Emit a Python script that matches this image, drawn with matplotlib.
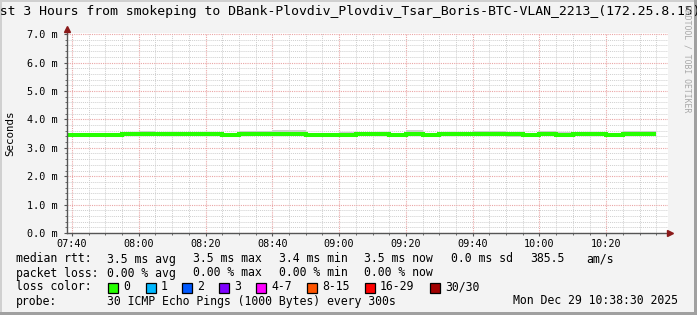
import matplotlib
matplotlib.use('Agg')
import matplotlib.pyplot as plt
from matplotlib.patches import Rectangle
from matplotlib.ticker import MultipleLocator, FixedLocator

W, H = 697, 315
MONO = 'DejaVu Sans Mono'

# 5 minute bins (start time of each bin)
bin_start = ["07:35", "07:40", "07:45", "07:50", "07:55", "08:00", "08:05", "08:10", "08:15",
             "08:20", "08:25", "08:30", "08:35", "08:40", "08:45", "08:50", "08:55", "09:00",
             "09:05", "09:10", "09:15", "09:20", "09:25", "09:30", "09:35", "09:40", "09:45",
             "09:50", "09:55", "10:00", "10:05", "10:10", "10:15", "10:20", "10:25", "10:30"]
median_ms = [3.45, 3.45, 3.45, 3.45, 3.48, 3.47, 3.48, 3.47, 3.48,
             3.47, 3.46, 3.48, 3.48, 3.47, 3.47, 3.46, 3.46, 3.46,
             3.47, 3.47, 3.46, 3.47, 3.46, 3.47, 3.47, 3.48, 3.48,
             3.47, 3.46, 3.47, 3.46, 3.48, 3.47, 3.46, 3.47, 3.47]
smoke_lo_ms = [3.44, 3.44, 3.44, 3.44, 3.46, 3.45, 3.46, 3.45, 3.46,
               3.45, 3.37, 3.46, 3.46, 3.42, 3.42, 3.44, 3.44, 3.44,
               3.45, 3.44, 3.44, 3.44, 3.44, 3.44, 3.45, 3.45, 3.45,
               3.37, 3.44, 3.44, 3.44, 3.45, 3.40, 3.44, 3.45, 3.45]
smoke_hi_ms = [3.47, 3.47, 3.47, 3.47, 3.52, 3.58, 3.52, 3.56, 3.52,
               3.54, 3.52, 3.60, 3.60, 3.63, 3.61, 3.50, 3.50, 3.57,
               3.57, 3.56, 3.53, 3.61, 3.52, 3.51, 3.52, 3.60, 3.58,
               3.52, 3.50, 3.58, 3.56, 3.52, 3.56, 3.51, 3.59, 3.59]

xtick_labels = ["07:40", "08:00", "08:20", "08:40", "09:00", "09:20", "09:40", "10:00", "10:20"]
ytick_values = [0, 1, 2, 3, 4, 5, 6, 7]

loss_labels = ["0", "1", "2", "3", "4-7", "8-15", "16-29", "30/30"]
loss_colors = ["#26ff00", "#00b8ff", "#0059ff", "#7e00ff", "#ff00ff", "#ff5500", "#ff0000", "#a10000"]

title = "Last 3 Hours from smokeping to DBank-Plovdiv_Plovdiv_Tsar_Boris-BTC-VLAN_2213_(172.25.8.15)"


def to_min(s):
    h, m = s.split(':')
    return int(h) * 60 + int(m)


edges = [to_min(s) for s in bin_start] + [to_min(bin_start[-1]) + 5]
t_end = 10 * 60 + 38.5
t_start = t_end - 180


def fx(px):
    return px / W


def fy(py):
    return 1 - py / H


fig = plt.figure(figsize=(W / 100, H / 100), dpi=100)
fig.patch.set_facecolor('#f3f3f3')

# bevel border
fig.add_artist(Rectangle((0, fy(2)), 1, 2 / H, transform=fig.transFigure, color='#d0d0d0', lw=0))
fig.add_artist(Rectangle((0, 0), 2 / W, 1, transform=fig.transFigure, color='#d0d0d0', lw=0))
fig.add_artist(Rectangle((0, 0), 1, 3 / H, transform=fig.transFigure, color='#a0a0a0', lw=0))
fig.add_artist(Rectangle((1 - 3 / W, 0), 3 / W, 1, transform=fig.transFigure, color='#a0a0a0', lw=0))

ax = fig.add_axes([fx(67), fy(233), 601 / W, 200 / H])
ax.set_facecolor('white')
ax.set_xlim(t_start, t_end)
ax.set_ylim(0, 7.04)

# grid
ax.xaxis.set_major_locator(FixedLocator([to_min(s) for s in xtick_labels]))
ax.xaxis.set_minor_locator(MultipleLocator(5))
ax.yaxis.set_major_locator(FixedLocator(ytick_values))
ax.yaxis.set_minor_locator(MultipleLocator(0.2))
ax.grid(which='minor', color='#cfcfcf', linestyle=(0, (1, 1)), lw=0.7)
ax.grid(which='major', color='#eaa5a5', linestyle=(0, (1, 1)), lw=0.8)
ax.set_axisbelow(True)

ax.set_xticklabels(xtick_labels, fontfamily=MONO, fontsize=7.3)
ax.set_yticklabels([f"{v:.1f} m" for v in ytick_values], fontfamily=MONO, fontsize=7.3)
ax.tick_params(which='major', length=2, width=0.8, color='#555555', pad=2)
ax.tick_params(axis='y', which='major', pad=5)
ax.tick_params(which='minor', length=1.2, width=0.6, color='#555555')
for sp in ax.spines.values():
    sp.set_visible(False)

# smoke and median
ax.stairs(smoke_hi_ms, edges, baseline=smoke_lo_ms, fill=True, color='#cdcdcd', lw=0)
ax.stairs(median_ms, edges, baseline=None, color='#26ff00', lw=2.9)

# axes with arrows
ax.plot([0, 1.0], [0, 0], transform=ax.transAxes, color='#555555', lw=1, clip_on=False)
ax.plot([0, 0], [0, 1.0], transform=ax.transAxes, color='#555555', lw=1, clip_on=False)
ax.plot([1.003], [0], marker='>', transform=ax.transAxes, color='#8b1a1a', ms=4.5, clip_on=False)
ax.plot([0], [1.02], marker='^', transform=ax.transAxes, color='#8b1a1a', ms=4.5, clip_on=False)

fig.text(fx(-15.9), fy(12), title, fontfamily=MONO, fontsize=9.42, va='center', ha='left')
fig.text(fx(10), fy(133), "Seconds", fontfamily=MONO, fontsize=7.8, rotation=90, va='center', ha='center')
fig.text(fx(687), fy(59), "RRDTOOL / TOBI OETIKER", fontfamily=MONO, fontsize=5.9,
         color='#a8a8a8', rotation=270, va='center', ha='center')

LF = 8.3
rows = [
    (259, [(16, "median rtt:"), (107, "3.5 ms avg"), (193, "3.5 ms max"), (279, "3.4 ms min"),
           (364, "3.5 ms now"), (451, "0.0 ms sd"), (530, "385.5"), (586, "am/s")]),
    (273, [(16, "packet loss:"), (107, "0.00 % avg"), (193, "0.00 % max"), (279, "0.00 % min"),
           (364, "0.00 % now")]),
    (287, [(16, "loss color:")]),
    (301, [(16, "probe:"), (107, "30 ICMP Echo Pings (1000 Bytes) every 300s"),
           (513, "Mon Dec 29 10:38:30 2025")]),
]
for y, items in rows:
    for x, s in items:
        fig.text(fx(x), fy(y), s, fontfamily=MONO, fontsize=LF, va='center', ha='left')

box_x = [108, 146, 182, 219, 256, 307, 365, 430]
for bx, lab, col in zip(box_x, loss_labels, loss_colors):
    fig.add_artist(Rectangle((fx(bx), fy(293)), 10 / W, 10 / H, transform=fig.transFigure,
                             facecolor=col, edgecolor='black', lw=0.9))
    fig.text(fx(bx + 15), fy(287), lab, fontfamily=MONO, fontsize=LF, va='center', ha='left')

fig.savefig('out.png', dpi=100, facecolor=fig.get_facecolor())
